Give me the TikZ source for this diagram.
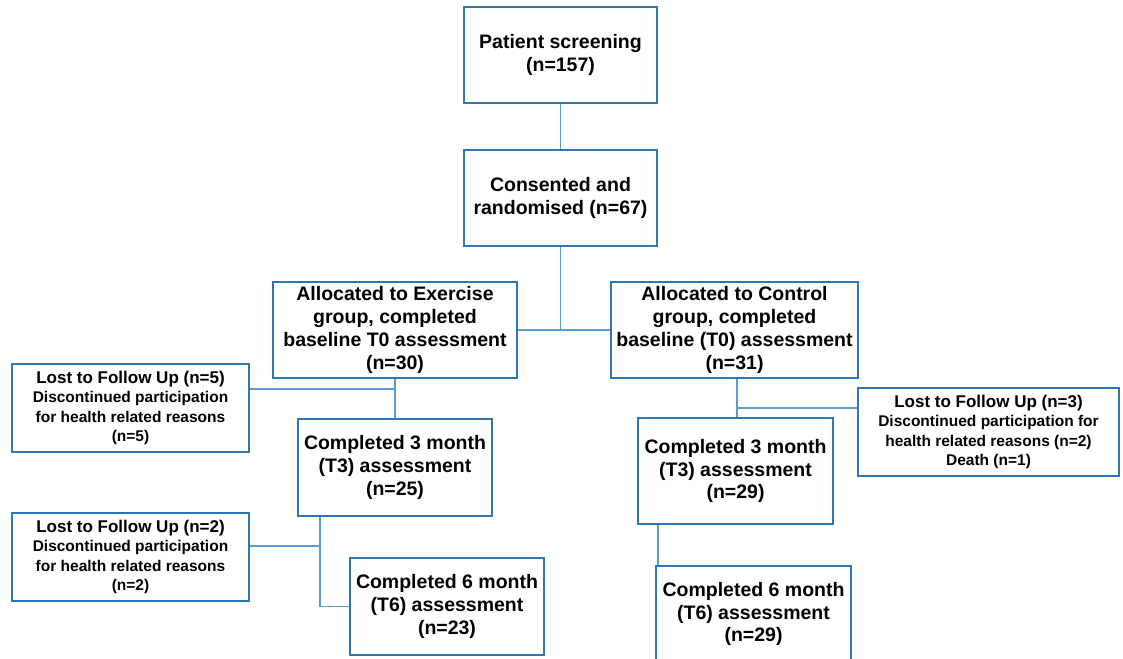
\documentclass[tikz,border=0pt]{standalone}
\usepackage{fontspec}
\setmainfont{Liberation Sans}
\definecolor{boxblue}{RGB}{46,117,182}
\definecolor{linkblue}{RGB}{91,155,213}
\newcommand{\losthead}[1]{{\fontsize{17}{20}\selectfont #1}}

\begin{document}
\begin{tikzpicture}[
  x=1pt, y=-1pt,
  every node/.style = {draw=boxblue, line width=2pt, align=center, inner sep=0pt},
  stage/.style = {font=\fontsize{19.5}{22.7}\selectfont\bfseries},
  lost/.style = {minimum width=237pt, minimum height=88pt, font=\fontsize{15.5}{19.3}\selectfont\bfseries},
  link/.style = {draw=linkblue, line width=1.3pt}
]
\useasboundingbox (0,0) rectangle (1123,658);
\clip (0,0) rectangle (1123,658);

\node[stage, minimum width=193pt, minimum height=96pt] (screen)  at (560.5,55)  {Patient screening\\(n=157)};
\node[stage, minimum width=193pt, minimum height=96pt] (consent) at (560.5,198) {Consented and\\randomised (n=67)};
\node[stage, minimum width=244pt, minimum height=96pt] (exer)    at (395,330)   {Allocated to Exercise\\group, completed\\baseline T0 assessment\\(n=30)};
\node[stage, minimum width=247pt, minimum height=96pt] (ctrl)    at (734.5,330) {Allocated to Control\\group, completed\\baseline (T0) assessment\\(n=31)};

\node[lost] (lostA) at (130.5,408) {\losthead{Lost to Follow Up (n=5)}\\Discontinued participation\\for health related reasons\\(n=5)};
\node[lost] (lostB) at (130.5,557) {\losthead{Lost to Follow Up (n=2)}\\Discontinued participation\\for health related reasons\\(n=2)};
\node[lost, minimum width=261pt] (lostC) at (988.5,432) {\losthead{Lost to Follow Up (n=3)}\\Discontinued participation for\\health related reasons (n=2)\\Death (n=1)};

\node[stage, minimum width=194pt, minimum height=97pt]  (exerT3) at (395,467.5) {Completed 3 month\\(T3) assessment\\(n=25)};
\node[stage, minimum width=194pt, minimum height=97pt]  (exerT6) at (447,606.5) {Completed 6 month\\(T6) assessment\\(n=23)};
\node[stage, minimum width=195pt, minimum height=106pt] (ctrlT3) at (735.5,471) {Completed 3 month\\(T3) assessment\\(n=29)};
\node[stage, minimum width=195pt, minimum height=96pt]  (ctrlT6) at (753.5,614) {Completed 6 month\\(T6) assessment\\(n=29)};

% junction points on the vertical links
\coordinate (jA) at (395,389);
\coordinate (jB) at (320,546);
\coordinate (jC) at (737,408);
\coordinate (jD) at (658,545);

\draw[link] (screen) -- (consent);
\draw[link] (consent.south) -- (consent.south |- exer.east);   % split point
\draw[link] (exer) -- (ctrl);
\draw[link] (exer) -- (exerT3);
\draw[link] (lostA.east |- jA) -- (jA);                          % loss before T3
\draw[link] (exerT3.south -| jB) |- (exerT6.west);
\draw[link] (lostB.east |- jB) -- (jB);                          % loss before T6
\draw[link] (ctrl.south -| jC) -- (ctrlT3.north -| jC);
\draw[link] (jC) -- (jC -| lostC.west);                          % control loss
\draw[link] (ctrlT3.south -| jD) -- (ctrlT6.north -| jD);

\end{tikzpicture}
\end{document}
